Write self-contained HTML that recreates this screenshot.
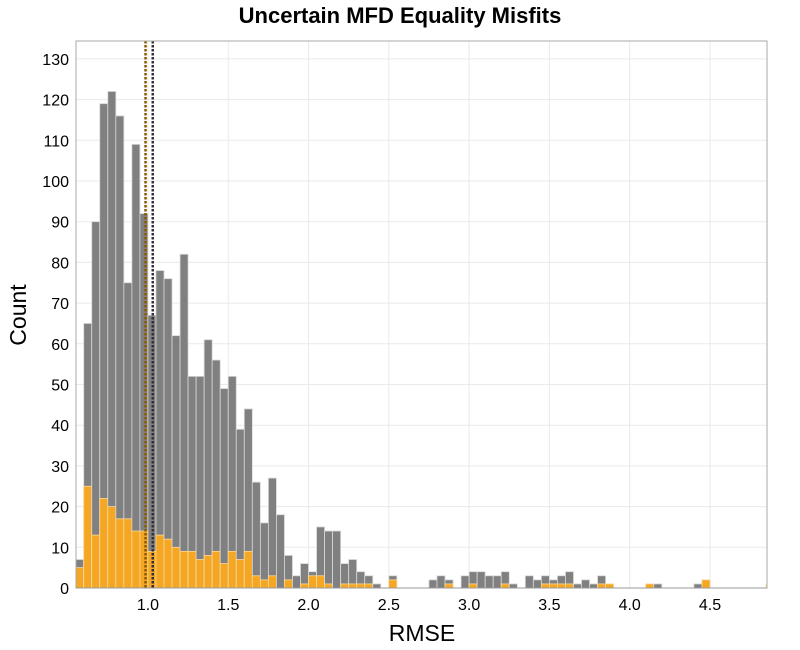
<!DOCTYPE html>
<html><head><meta charset="utf-8"><style>
body{margin:0;background:#fff;}
svg{display:block;font-family:"Liberation Sans","DejaVu Sans",sans-serif;}
</style></head><body>
<svg id="chart" width="800" height="650" xmlns="http://www.w3.org/2000/svg">
<text x="400" y="23" text-anchor="middle" font-size="22" font-weight="bold">Uncertain MFD Equality Misfits</text>
<g id="grid"></g>
<g id="bars"></g>
<g id="lines"></g>
<rect x="76" y="41" width="691" height="547" fill="none" stroke="#aaa" stroke-width="1"/>
<g id="axes"></g>
<text x="422" y="641" text-anchor="middle" font-size="23">RMSE</text>
<text transform="translate(26,315) rotate(-90)" text-anchor="middle" font-size="23">Count</text>
</svg>
<script>
const binStart = 0.55;
const binWidth = 0.05;
const totals = [7,65,90,119,122,116,75,109,92,67,78,76,62,82,52,52,61,56,49,52,39,44,26,16,27,18,8,3,6,4,15,14,14,6,7,4,3,1,0,3,0,0,0,0,2,3,2,0,3,4,4,3,3,4,1,0,3,2,3,2,3,4,1,2,1,3,1,0,0,0,0,1,1,0,0,0,0,1,2,0,0,0,0,0,0,0,1];
const oranges = [5,25,13,22,20,17,17,14,14,9,13,12,10,9,9,7,8,9,6,9,7,9,3,2,3,0,2,0,1,3,3,1,0,1,1,1,1,0,0,2,0,0,0,0,0,0,1,0,0,1,0,0,0,1,0,0,0,0,1,1,1,1,0,0,0,1,1,0,0,0,0,1,0,0,0,0,0,0,2,0,0,0,0,0,0,0,1];
const xTicks = [1.0,1.5,2.0,2.5,3.0,3.5,4.0,4.5];
const yTicks = [0,10,20,30,40,50,60,70,80,90,100,110,120,130];
const refLines = [0.985, 1.03];
const refColors = ["#8b5a00","#333"];

const X0=76,X1=767,Y0=588,Y1=41;
const xMin=0.552,xMax=4.855,yMax=134.4;
const xs=v=>X0+(v-xMin)/(xMax-xMin)*(X1-X0);
const ys=v=>Y0-v/yMax*(Y0-Y1);
const NS="http://www.w3.org/2000/svg";
function mk(tag,attrs,parent){const e=document.createElementNS(NS,tag);for(const k in attrs)e.setAttribute(k,attrs[k]);parent.appendChild(e);return e;}
const grid=document.getElementById('grid'),bars=document.getElementById('bars'),lines=document.getElementById('lines'),axes=document.getElementById('axes');
xTicks.forEach(t=>{
  const g=mk('line',{x1:xs(t),x2:xs(t),y1:Y1,y2:Y0,stroke:'#eaeaea'},grid);
  
  
  const l=mk('text',{x:xs(t),y:Y0+22,'text-anchor':'middle','font-size':16},axes);
  l.textContent=t.toFixed(1);
  
  
});
yTicks.forEach(t=>{
  const g=mk('line',{x1:X0,x2:X1,y1:ys(t),y2:ys(t),stroke:'#eaeaea'},grid);
  
  
  const l=mk('text',{x:X0-7,y:ys(t)+6,'text-anchor':'end','font-size':16},axes);
  l.textContent=t;
  
  
});
const clip=mk('clipPath',{id:'pc'},document.getElementById('chart'));
mk('rect',{x:X0,y:Y1,width:X1-X0,height:Y0-Y1},clip);
bars.setAttribute('clip-path','url(#pc)');
totals.forEach((v,i)=>{
  const a=binStart+i*binWidth,b=a+binWidth;
  const x=xs(a),w=xs(b)-xs(a);
  if(v>0){
    const r=mk('rect',{x:x,y:ys(v),width:w,height:ys(0)-ys(v),fill:'#808080',stroke:'#d8d8d8','stroke-width':0.8},bars);
    
    
  }
  const o=oranges[i];
  if(o>0){
    const r=mk('rect',{x:x,y:ys(o),width:w,height:ys(0)-ys(o),fill:'#f5a623',stroke:'#fbd89a','stroke-width':0.8},bars);
    
    
  }
});
refLines.forEach((v,i)=>{
  const l=mk('line',{x1:xs(v),x2:xs(v),y1:Y1,y2:Y0,stroke:refColors[i],'stroke-width':2.5,'stroke-dasharray':'2.5,1.5'},lines);
  
  
});
mk('line',{x1:X0,x2:X1,y1:Y0,y2:Y0,stroke:'#999'},axes);
</script>
</body></html>
